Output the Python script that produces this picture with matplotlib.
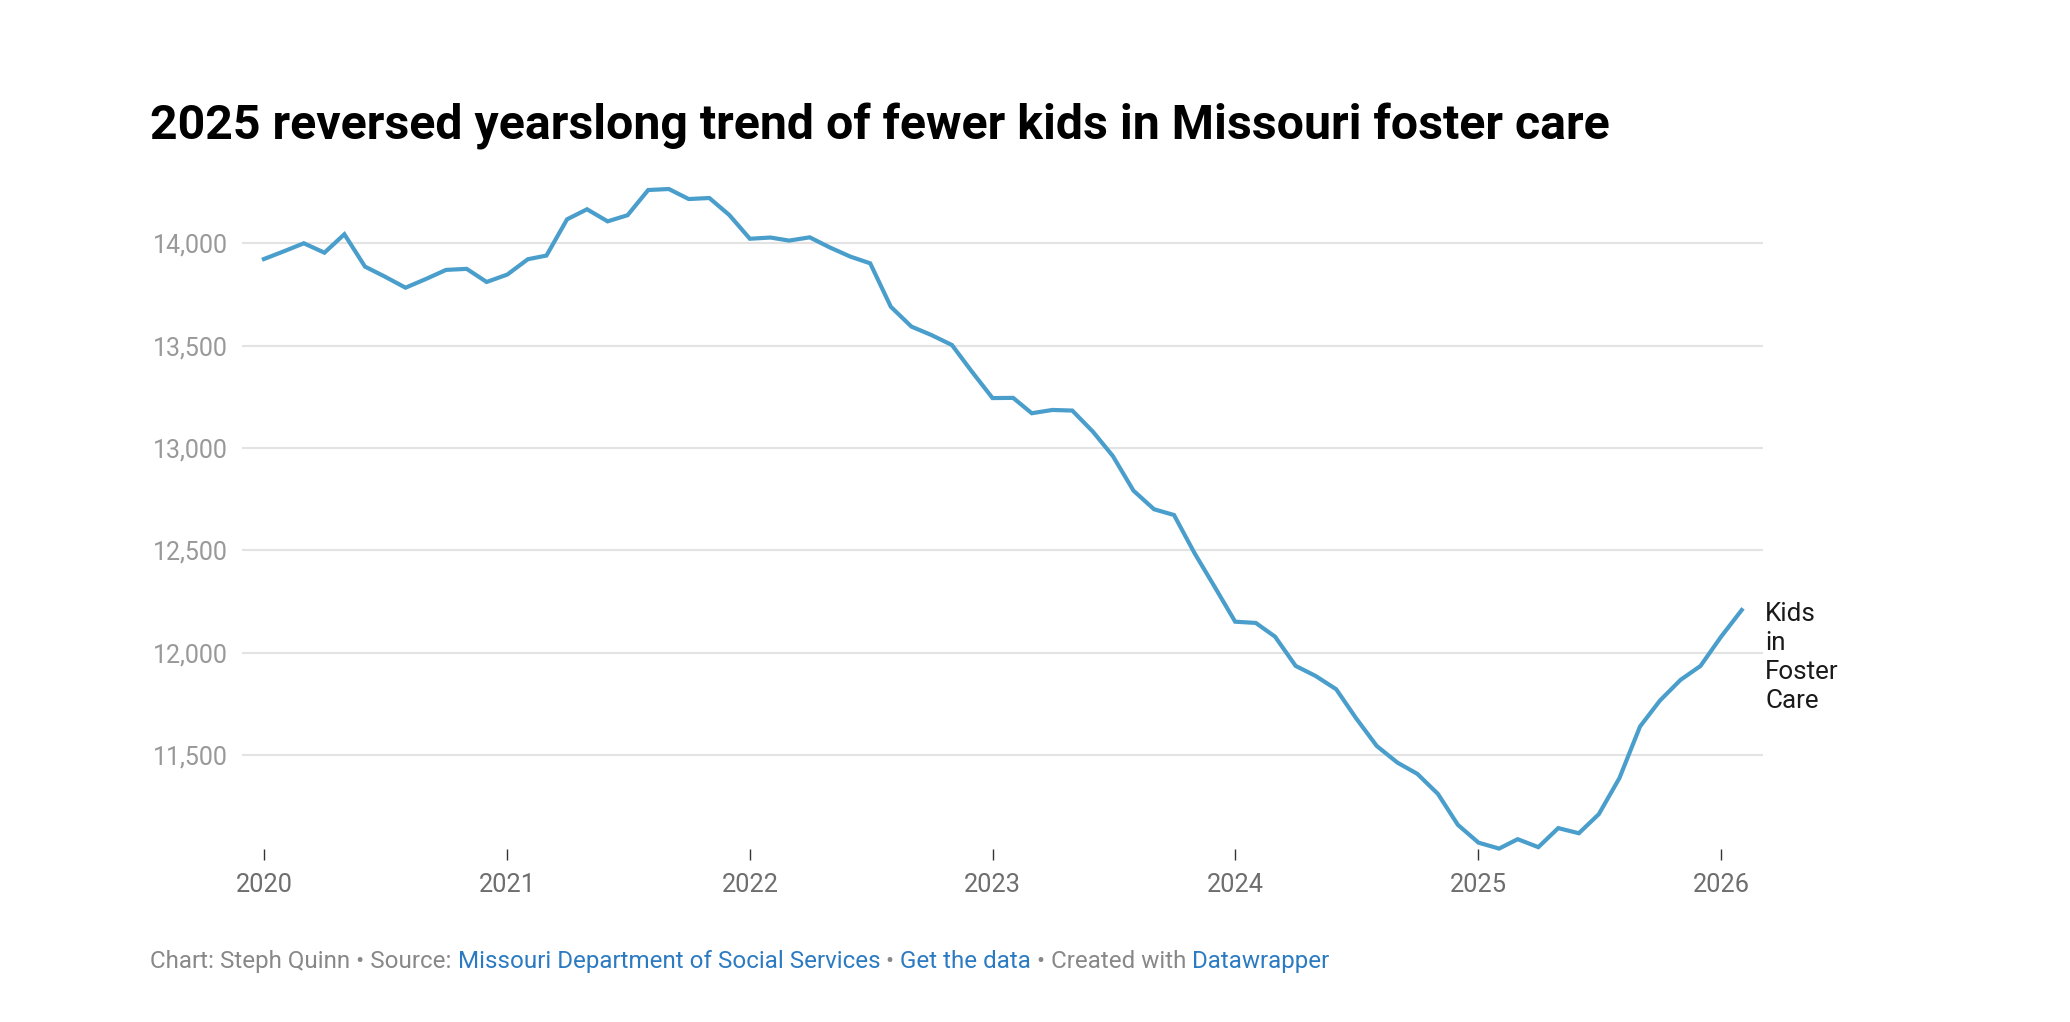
import matplotlib
matplotlib.use("Agg")
import matplotlib.pyplot as plt
import pandas as pd

# Monthly count of kids in Missouri foster care, Jan 2020 - Feb 2026
months = pd.date_range("2020-01-01", periods=74, freq="MS")
kids = [
    13923, 13962, 14000, 13954, 14044, 13886, 13837, 13783, 13826, 13870, 13875, 13811,  # 2020
    13847, 13922, 13940, 14117, 14166, 14107, 14137, 14260, 14265, 14216, 14221, 14138,  # 2021
    14022, 14028, 14013, 14029, 13980, 13935, 13902, 13690, 13593, 13552, 13503, 13373,  # 2022
    13244, 13245, 13170, 13186, 13183, 13080, 12961, 12792, 12701, 12673, 12486, 12323,  # 2023
    12152, 12146, 12079, 11936, 11887, 11822, 11680, 11545, 11464, 11409, 11311, 11160,  # 2024
    11073, 11044, 11090, 11051, 11144, 11119, 11212, 11388, 11640, 11767, 11868, 11936,  # 2025
    12079, 12209,                                                                        # 2026
]
y_ticks = [11500, 12000, 12500, 13000, 13500, 14000]
x_years = [2020, 2021, 2022, 2023, 2024, 2025, 2026]

title = "2025 reversed yearslong trend of fewer kids in Missouri foster care"
series_label = "Kids\nin\nFoster\nCare"
footer = [
    ("Chart: Steph Quinn \u2022 Source: ", "#888888"),
    ("Missouri Department of Social Services", "#2c7bc2"),
    (" \u2022 ", "#888888"),
    ("Get the data", "#2c7bc2"),
    (" \u2022 Created with ", "#888888"),
    ("Datawrapper", "#2c7bc2"),
]

plt.rcParams["font.family"] = ["Roboto", "DejaVu Sans"]

W, H = 2070, 1022
fig = plt.figure(figsize=(W / 100, H / 100), dpi=100)
fig.patch.set_facecolor("white")

ax = fig.add_axes([242 / W, 1 - 849 / H, (1763 - 242) / W, (849 - 189) / H])
ax.plot(months, kids, color="#4a9ecb", lw=3, solid_joinstyle="miter", clip_on=False, zorder=3)

ax.set_xlim(pd.Timestamp("2019-11-29"), pd.Timestamp("2026-03-05"))
ax.set_ylim(11042, 14265)

ax.set_yticks(y_ticks)
ax.set_yticklabels([f"{v:,}" for v in y_ticks])
ax.set_xticks([pd.Timestamp(f"{y}-01-01") for y in x_years])
ax.set_xticklabels([str(y) for y in x_years])

ax.grid(axis="y", color="#e3e3e3", lw=1.5)
ax.set_axisbelow(True)
for s in ax.spines.values():
    s.set_visible(False)

ax.tick_params(axis="y", length=0, pad=10, labelsize=18, labelcolor="#999999")
ax.tick_params(axis="x", length=8, width=1, color="#333333", pad=9,
               labelsize=18.3, labelcolor="#6e6e6e", direction="out")

# direct label at the end of the line
ax.annotate(series_label, xy=(months[-1], kids[-1]), xytext=(17, 6),
            textcoords="offset points", ha="left", va="top",
            fontsize=18.7, color="#1a1a1a", linespacing=1.26, annotation_clip=False)

fig.text(150 / W, 1 - 140 / H, title, fontsize=34.75, fontweight="bold",
         color="#000000", ha="left", va="baseline")

# footer, pieces placed one after another
renderer = fig.canvas.get_renderer()
x = 150
for txt, col in footer:
    t = fig.text(x / W, 1 - 968 / H, txt, fontsize=17.4, color=col, ha="left", va="baseline")
    bb = t.get_window_extent(renderer=renderer)
    x += bb.width

fig.savefig("out.png", dpi=100, facecolor="white")
